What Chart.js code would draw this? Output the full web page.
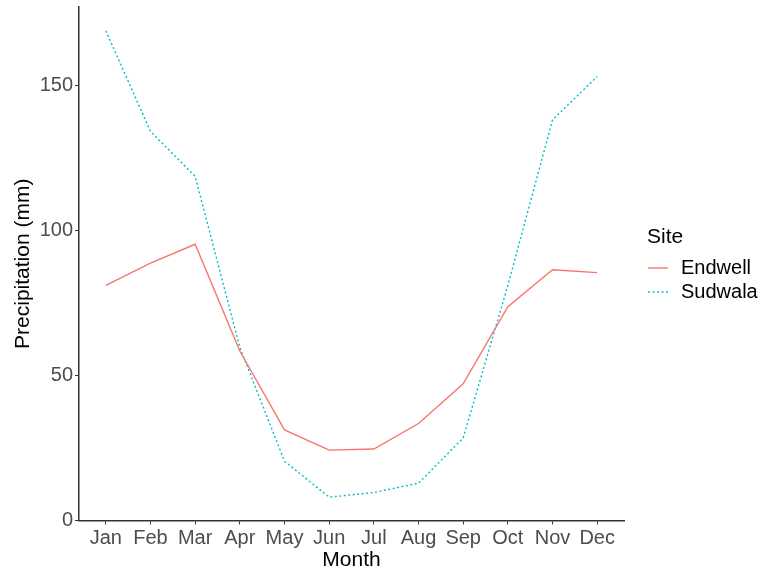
<!DOCTYPE html>
<html>
<head>
<meta charset="utf-8">
<script src="https://cdn.jsdelivr.net/npm/chart.js@4"></script>
<style>
  html, body { margin: 0; padding: 0; background: #fff; }
  #wrap { width: 764px; height: 573px; }
</style>
</head>
<body>
<div id="wrap"><canvas id="precip"></canvas></div>
<script>
// ============================= data

const months = ['Jan', 'Feb', 'Mar', 'Apr', 'May', 'Jun', 'Jul', 'Aug', 'Sep', 'Oct', 'Nov', 'Dec']
const endwell = [81.0, 88.7, 95.2, 58.4, 31.2, 24.2, 24.6, 33.4, 47.1, 73.7, 86.4, 85.4]
const sudwala = [168.8, 134.1, 118.6, 59.6, 20.4, 8.0, 9.6, 12.8, 28.4, 81.0, 138.1, 153.0]
const yTicks = [0, 50, 100, 150]
const siteNames = ['Endwell', 'Sudwala']
const siteColors = ['#F8766D', '#00BFC4']
const siteDash = [[], [2, 2.5]]

const FONT = "'Liberation Sans', Arial, sans-serif"

const toPoints = (vals) => vals.map((v, i) => ({ x: i, y: v }))

// ============================= ggplot style legend drawn at the right

const siteLegend = {
    id: 'siteLegend',
    afterDraw(chart) {
        const ctx = chart.ctx
        ctx.save()
        ctx.fillStyle = '#000'
        ctx.textAlign = 'left'
        ctx.textBaseline = 'middle'
        ctx.font = `21px ${FONT}`
        ctx.fillText('Site', 647, 237)

        const rows = [268, 292]
        ctx.font = `20px ${FONT}`
        siteNames.forEach((name, i) => {
            ctx.strokeStyle = siteColors[i]
            ctx.lineWidth = 1.4
            ctx.setLineDash(siteDash[i])
            ctx.beginPath()
            ctx.moveTo(648, rows[i])
            ctx.lineTo(668, rows[i])
            ctx.stroke()
            ctx.setLineDash([])
            ctx.fillStyle = '#000'
            ctx.fillText(name, 681, rows[i])
        })
        ctx.restore()
    }
}

// ============================= chart

new Chart(document.getElementById('precip'), {
    type: 'line',
    data: {
        datasets: [endwell, sudwala].map((vals, i) => ({
            label: siteNames[i],
            data: toPoints(vals),
            borderColor: siteColors[i],
            borderWidth: 1.4,
            borderDash: siteDash[i],
            pointRadius: 0,
            tension: 0,
            fill: false
        }))
    },
    options: {
        responsive: true,
        maintainAspectRatio: false,
        animation: false,
        layout: { padding: { top: 7, right: 140, left: 0, bottom: 0 } },
        plugins: {
            legend: { display: false },
            tooltip: { enabled: false }
        },
        scales: {
            x: {
                type: 'linear',
                min: -0.6,
                max: 11.6,
                afterFit: (s) => { s.height = 52.5; s.paddingLeft = 0; s.paddingRight = 0 },
                afterBuildTicks: (s) => { s.ticks = months.map((_, i) => ({ value: i })) },
                ticks: {
                    callback: (v) => months[v] ?? '',
                    color: '#4D4D4D',
                    font: { family: FONT, size: 20 },
                    padding: 2,
                    maxRotation: 0,
                    autoSkip: false
                },
                grid: { drawOnChartArea: false, drawTicks: true, tickLength: 4, color: '#333' },
                border: { display: true, color: '#333', width: 1.5 },
                title: {
                    display: true,
                    text: 'Month',
                    color: '#000',
                    font: { family: FONT, size: 21 },
                    padding: { top: 0, bottom: 0 }
                }
            },
            y: {
                min: -0.05,
                max: 177,
                afterFit: (s) => { s.width = 79; s.paddingTop = 0; s.paddingBottom = 0 },
                afterBuildTicks: (s) => { s.ticks = yTicks.map(v => ({ value: v })) },
                ticks: {
                    color: '#4D4D4D',
                    font: { family: FONT, size: 20 },
                    padding: 2
                },
                grid: { drawOnChartArea: false, drawTicks: true, tickLength: 4, color: '#333' },
                border: { display: true, color: '#333', width: 1.5 },
                title: {
                    display: true,
                    text: 'Precipitation (mm)',
                    color: '#000',
                    font: { family: FONT, size: 21 },
                    padding: { top: 11, bottom: 0 }
                }
            }
        }
    },
    plugins: [siteLegend]
})
</script>
</body>
</html>
